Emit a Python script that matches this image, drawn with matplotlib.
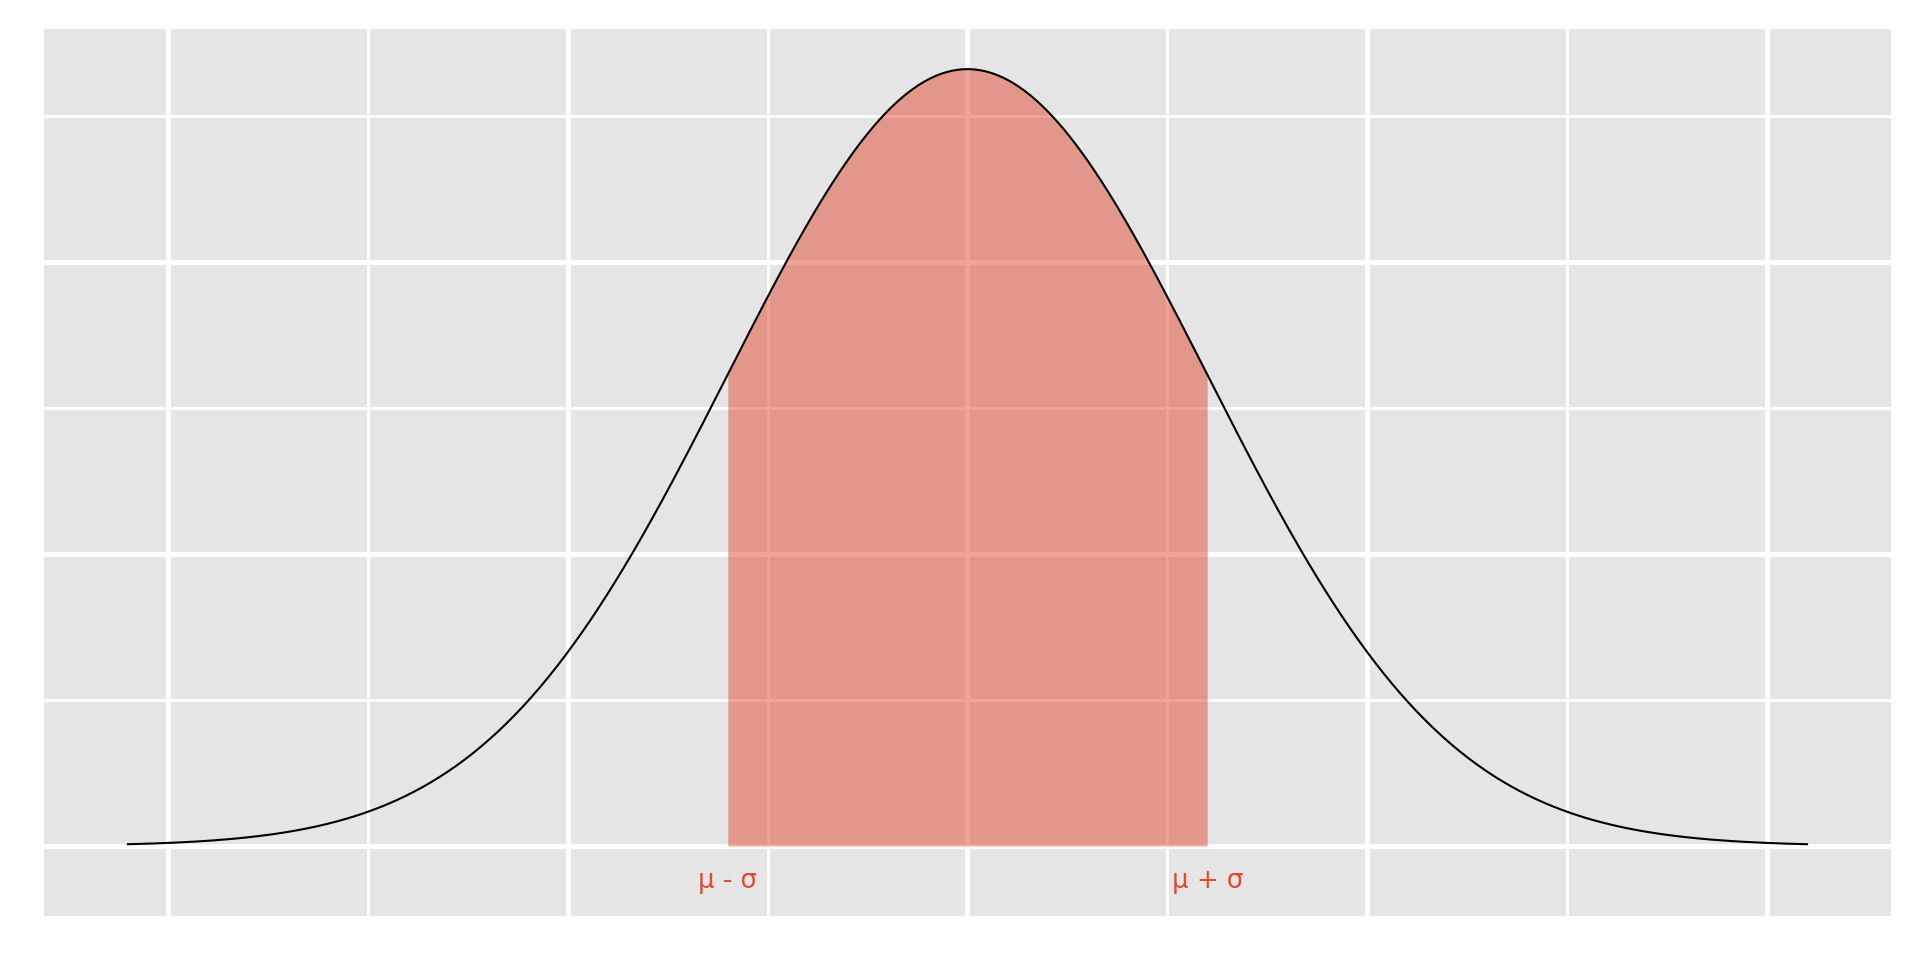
import numpy as np
import matplotlib
matplotlib.use('Agg')
import matplotlib.pyplot as plt
from matplotlib.ticker import MultipleLocator

# 正态分布参数（从图上读出：均值 100，标准差 15）
mu = 100
sigma = 15
x_span = 3.5  # 曲线画到 mu ± 3.5 sigma
labels = ['μ - σ', 'μ + σ']
label_pos = [mu - sigma, mu + sigma]

x = np.linspace(mu - x_span * sigma, mu + x_span * sigma, 600)
pdf = np.exp(-0.5 * ((x - mu) / sigma) ** 2) / (sigma * np.sqrt(2 * np.pi))

fig = plt.figure(figsize=(12.8, 6.4), dpi=150)
ax = fig.add_axes([0.0229, 0.0458, 0.962, 0.924])
ax.set_facecolor('#E5E5E5')
for s in ax.spines.values():
    s.set_visible(False)

# 网格：主刻度粗，次刻度细
ax.xaxis.set_major_locator(MultipleLocator(25))
ax.xaxis.set_minor_locator(MultipleLocator(12.5))
ax.yaxis.set_major_locator(MultipleLocator(0.01))
ax.yaxis.set_minor_locator(MultipleLocator(0.005))
ax.grid(which='major', color='white', lw=2.4)
ax.grid(which='minor', color='white', lw=1.4)
ax.set_axisbelow(True)
ax.tick_params(which='both', length=0, labelbottom=False, labelleft=False)

# 填充 mu ± sigma 区间
mask = (x >= mu - sigma) & (x <= mu + sigma)
ax.fill_between(x[mask], 0, pdf[mask], color='#E24A33', alpha=0.5, lw=0)
ax.plot(x, pdf, color='black', lw=1.0)

for lab, xp in zip(labels, label_pos):
    ax.text(xp, -0.0012, lab, color='#E24A33', ha='center', va='center', fontsize=12.5)

ax.set_xlim(mu - x_span * sigma - 5.25, mu + x_span * sigma + 5.25)
ax.set_ylim(-0.0024, 0.02797)

fig.savefig('out.png', dpi=150, facecolor='white')
